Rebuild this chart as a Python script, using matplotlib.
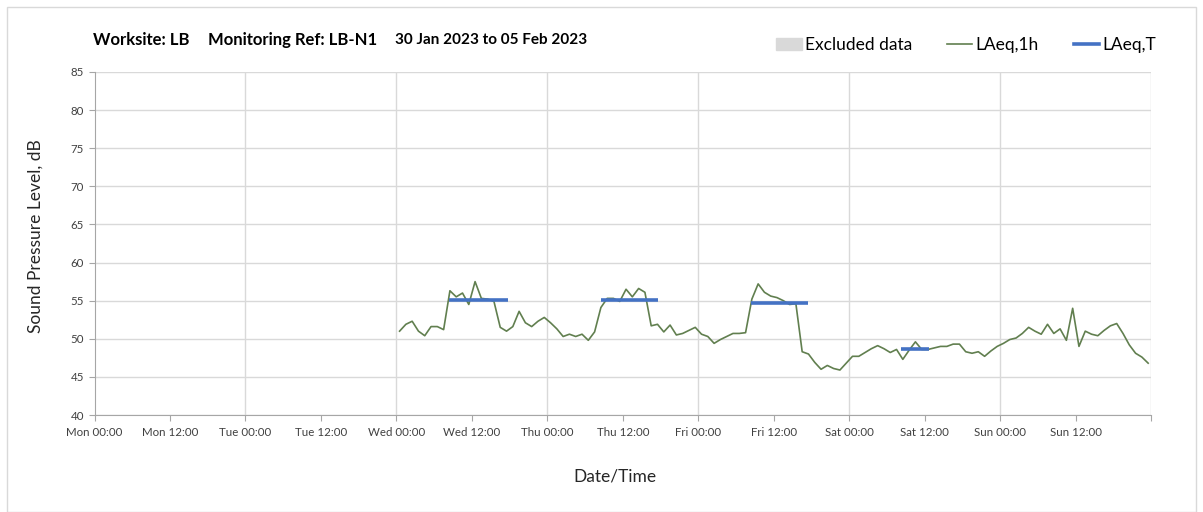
import numpy as np
import matplotlib.pyplot as plt
from matplotlib.patches import Patch, Rectangle
from matplotlib.lines import Line2D

plt.rcParams['font.family'] = ['Lato', 'DejaVu Sans']

# === Datos ===
# horas desde Mon 00:00, un valor LAeq,1h por hora (Wed 00:00 a Sun 23:00)
horas = np.arange(48, 168)
laeq_1h = [
    51.0, 51.9, 52.3, 51.0, 50.4, 51.6, 51.6, 51.2, 56.3, 55.5,
    56.0, 54.5, 57.5, 55.3, 55.2, 54.9, 51.5, 51.0, 51.6, 53.6,
    52.1, 51.6, 52.3, 52.8, 52.1, 51.3, 50.3, 50.6, 50.3, 50.6,
    49.8, 50.9, 54.1, 55.3, 55.3, 54.9, 56.5, 55.5, 56.6, 56.1,
    51.7, 51.9, 50.9, 51.8, 50.5, 50.7, 51.1, 51.5, 50.6, 50.3,
    49.4, 49.9, 50.3, 50.7, 50.7, 50.8, 55.2, 57.2, 56.1, 55.6,
    55.4, 55.0, 54.5, 54.6, 48.3, 48.0, 46.9, 46.0, 46.5, 46.1,
    45.9, 46.8, 47.7, 47.7, 48.2, 48.7, 49.1, 48.7, 48.2, 48.6,
    47.3, 48.5, 49.6, 48.6, 48.6, 48.8, 49.0, 49.0, 49.3, 49.3,
    48.3, 48.1, 48.3, 47.7, 48.4, 49.0, 49.4, 49.9, 50.1, 50.7,
    51.5, 51.0, 50.6, 51.9, 50.7, 51.3, 49.8, 54.0, 49.0, 51.0,
    50.6, 50.4, 51.1, 51.7, 52.0, 50.7, 49.2, 48.1, 47.6, 46.8,
]

# periodos LAeq,T (inicio, fin en horas, nivel)
periodo_ini = [56.4, 80.5, 104.4, 128.2]
periodo_fin = [65.8, 89.6, 113.5, 132.7]
laeq_t = [55.1, 55.1, 54.7, 48.6]

tick_horas = np.arange(0, 169, 12)
dias = ["Mon", "Tue", "Wed", "Thu", "Fri", "Sat", "Sun"]
tick_labels = [f"{d} {h}" for d in dias for h in ("00:00", "12:00")] + [""]
dias_grid = np.arange(24, 169, 24)

verde = "#617F4F"
azul = "#4472C4"

# === Figura ===
fig = plt.figure(figsize=(12.03, 5.12), dpi=100)
fig.patches.append(Rectangle((7 / 1203, 0), 1189 / 1203, 505 / 512,
                             transform=fig.transFigure, fill=False,
                             edgecolor="#D9D9D9", lw=1))
ax = fig.add_axes([94.5 / 1203, 97 / 512, 1056.8 / 1203, 343 / 512])

ax.plot(horas + 0.5, laeq_1h, color=verde, lw=1.2, zorder=3)
ax.hlines(laeq_t, periodo_ini, periodo_fin, color=azul, lw=2.6, zorder=4)

ax.set_xlim(0, 168)
ax.set_ylim(40, 85)
ax.set_yticks(np.arange(40, 86, 5))
ax.set_xticks(tick_horas)
ax.set_xticklabels(tick_labels)
ax.tick_params(axis="both", labelsize=8.3, colors="#404040", length=4,
               color="#A6A6A6")
ax.tick_params(axis="x", pad=5)

ax.grid(axis="y", color="#D9D9D9", lw=1)
ax.vlines(dias_grid, 40, 85, color="#D9D9D9", lw=1, zorder=1)
for s in ["top", "right"]:
    ax.spines[s].set_visible(False)
for s in ["left", "bottom"]:
    ax.spines[s].set_color("#A6A6A6")
ax.set_axisbelow(True)

fig.text(36 / 1203, 1 - 236 / 512, "Sound Pressure Level, dB", fontsize=12.5,
         color="#262626", rotation=90, ha="center", va="center")
fig.text(615 / 1203, 1 - 476 / 512, "Date/Time", fontsize=12.5,
         color="#262626", ha="center", va="center")

# titulo en tres partes
ty = 1 - 40 / 512
fig.text(93 / 1203, ty, "Worksite: LB", fontsize=12, weight="bold", va="center")
fig.text(208 / 1203, ty, "Monitoring Ref: LB-N1", fontsize=12, weight="bold", va="center")
fig.text(395 / 1203, ty, "30 Jan 2023 to 05 Feb 2023", fontsize=11, weight="bold", va="center")

handles = [Patch(color="#D9D9D9"), Line2D([], [], color=verde, lw=1.2),
           Line2D([], [], color=azul, lw=2.6)]
fig.legend(handles, ["Excluded data", "LAeq,1h", "LAeq,T"], ncol=3,
           loc="center right", bbox_to_anchor=(1156 / 1203, 1 - 45 / 512),
           frameon=False, fontsize=12.5, handlelength=1.45, handletextpad=0.2,
           columnspacing=2.0, borderpad=0, borderaxespad=0)

fig.savefig("out.png", dpi=100)
